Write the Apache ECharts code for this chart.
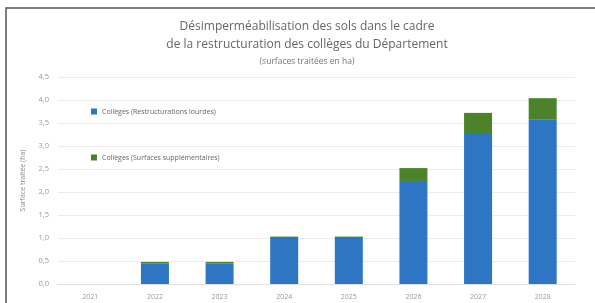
<!DOCTYPE html>
<html>
<head>
<meta charset="utf-8">
<script src="https://cdn.jsdelivr.net/npm/echarts@6/dist/echarts.min.js"></script>
<style>
  html, body { margin: 0; padding: 0; background: #fff; }
  #chart { width: 595px; height: 303px; }
</style>
</head>
<body>
<div id="chart"></div>
<script>
const years = ['2021', '2022', '2023', '2024', '2025', '2026', '2027', '2028'];
const restructurations = [0, 0.45, 0.45, 1.0, 1.0, 2.24, 3.28, 3.57];
const supplementaires = [0, 0.03, 0.03, 0.03, 0.03, 0.28, 0.44, 0.47];
const serieNames = ['Collèges (Restructurations lourdes)', 'Collèges (Surfaces supplémentaires)'];

const chart = echarts.init(document.getElementById('chart'));
const font = 'Open Sans, Liberation Sans, sans-serif';

chart.setOption({
  animation: false,
  color: ['#2e75c3', '#4c8229'],
  graphic: [
    {
      type: 'rect',
      shape: { x: 6, y: 8, width: 600, height: 300 },
      style: { fill: 'none', stroke: '#555', lineWidth: 1.5 }
    }
  ],
  title: {
    text: 'Désimperméabilisation des sols dans le cadre\nde la restructuration des collèges du Département',
    subtext: '(surfaces traitées en ha)',
    left: 302,
    textAlign: 'center',
    top: 13,
    itemGap: 3,
    textStyle: { fontFamily: font, fontSize: 12, fontWeight: 'normal', color: '#666', lineHeight: 18 },
    subtextStyle: { fontFamily: font, fontSize: 8.5, color: '#777' }
  },
  legend: {
    orient: 'vertical',
    left: 86,
    top: 103,
    itemGap: 39,
    itemWidth: 6,
    itemHeight: 6,
    icon: 'rect',
    data: serieNames,
    textStyle: { fontFamily: font, fontSize: 7, color: '#666' }
  },
  grid: { left: 58, right: 20, top: 77, bottom: 19 },
  xAxis: {
    type: 'category',
    data: years,
    axisTick: { show: false },
    axisLine: { lineStyle: { color: '#e0e0e0' } },
    axisLabel: { fontFamily: font, fontSize: 7, color: '#999', margin: 9 }
  },
  yAxis: {
    type: 'value',
    min: 0,
    max: 4.5,
    interval: 0.5,
    name: 'Surface traitée (ha)',
    nameLocation: 'middle',
    nameRotate: 90,
    nameGap: 32,
    nameTextStyle: { fontFamily: font, fontSize: 7, color: '#888' },
    axisLabel: {
      fontFamily: font, fontSize: 7.5, color: '#999', margin: 9,
      formatter: v => v.toFixed(1).replace('.', ',')
    },
    splitLine: { lineStyle: { color: '#ececec' } }
  },
  series: [
    {
      name: serieNames[0],
      type: 'bar',
      stack: 'total',
      barWidth: 28,
      data: restructurations
    },
    {
      name: serieNames[1],
      type: 'bar',
      stack: 'total',
      barWidth: 28,
      data: supplementaires
    }
  ]
});
</script>
</body>
</html>
